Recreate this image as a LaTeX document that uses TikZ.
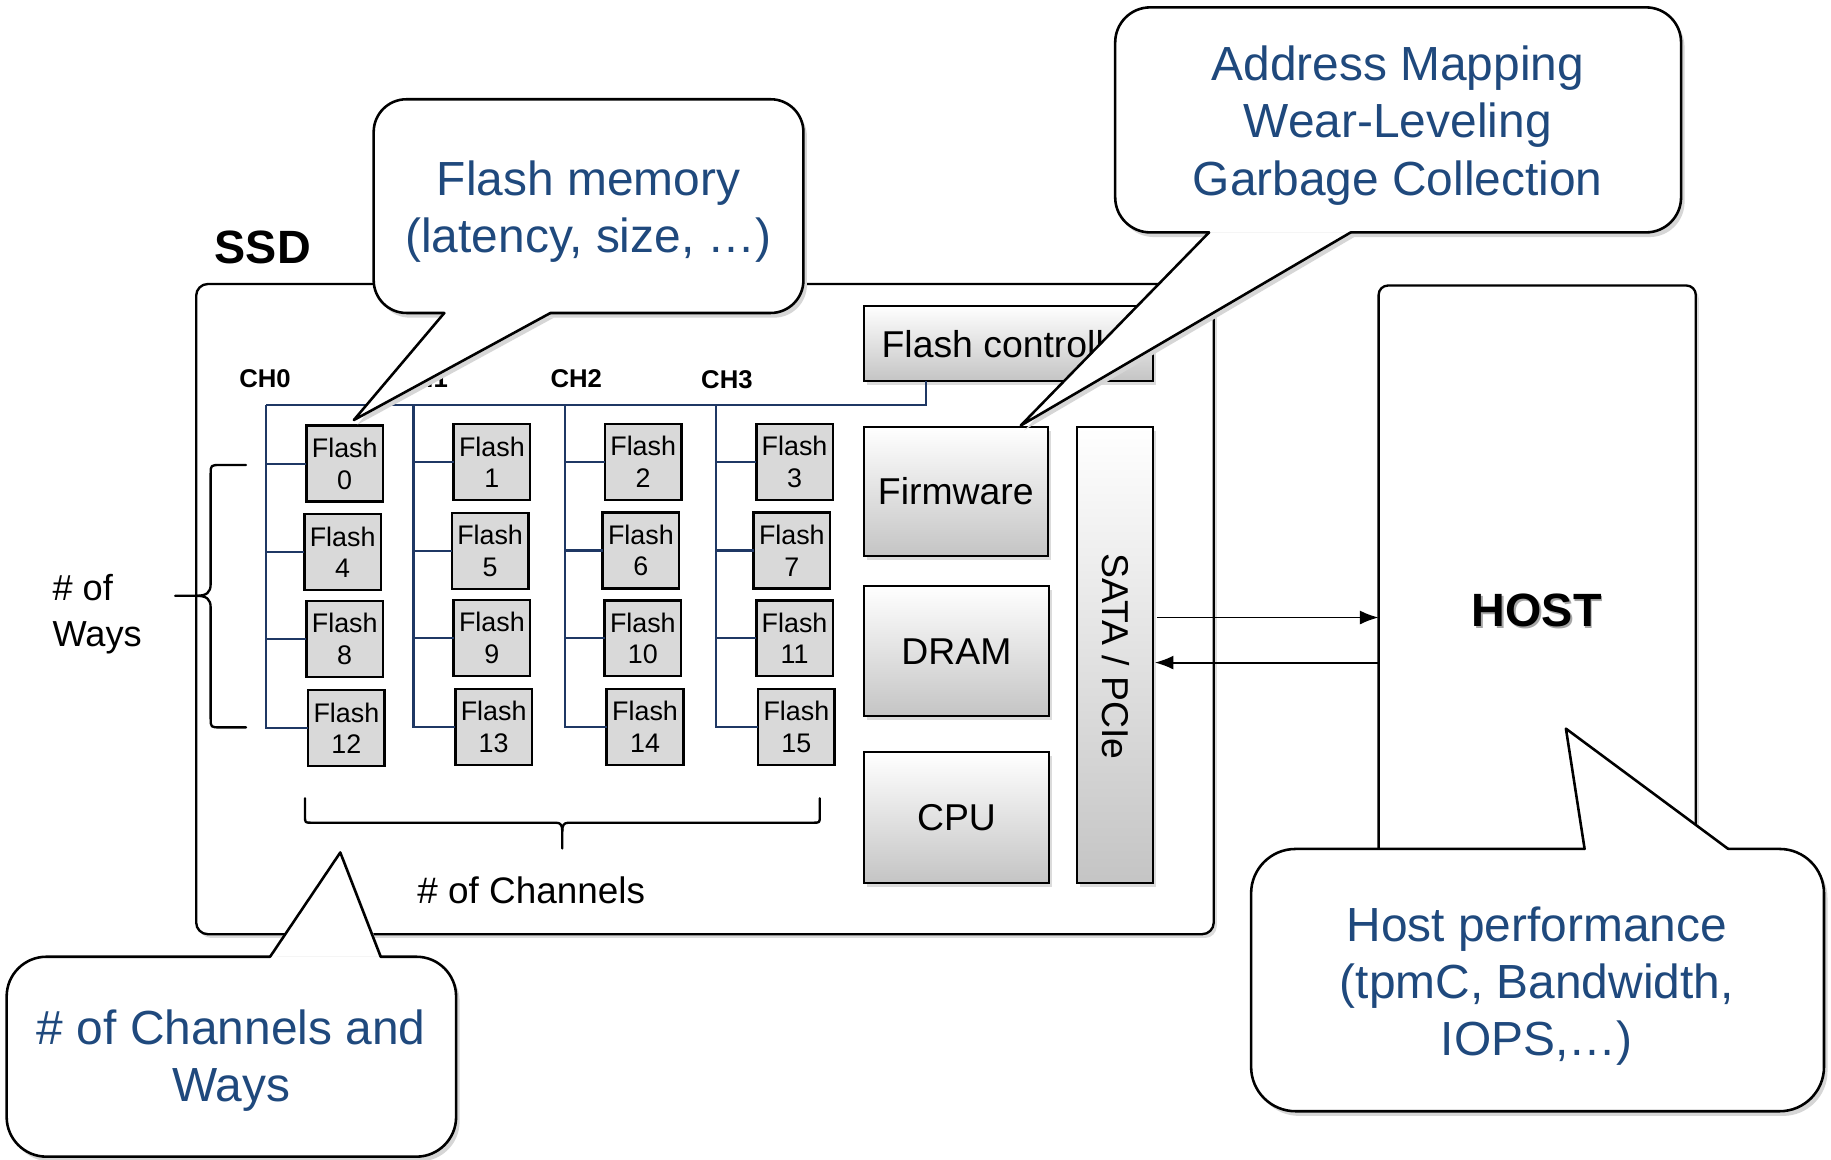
\documentclass[tikz,border=0pt]{standalone}
\usepackage{fontspec}
\setmainfont{Liberation Sans}
\usetikzlibrary{arrows.meta,shadows,calc}

\definecolor{calltext}{RGB}{31,73,125}
\definecolor{busblue}{RGB}{31,56,100}

% Speech bubble whose pointer leaves the bottom edge.
% #1 left, #2 top, #3 right, #4 bottom, #5/#6 pointer base x, #7/#8 pointer tip, #9 corner radius
\newcommand\calloutbelow[9]{%
  \begin{scope}[shift={(3,4)}]
    \fill[black!16, rounded corners=#9] (#1,#2) rectangle (#3,#4);
    \fill[black!16] (#5,#4) -- (#7,#8) -- (#6,#4) -- cycle;
  \end{scope}
  \fill[white, rounded corners=#9] (#1,#2) rectangle (#3,#4);
  \fill[white] (#5,#4) -- (#7,#8) -- (#6,#4) -- cycle;
  \draw[bubline, rounded corners=#9] (#6,#4) -- (#3,#4) -- (#3,#2) -- (#1,#2) -- (#1,#4) -- (#5,#4);
  \draw[bubline] (#5,#4) -- (#7,#8) -- (#6,#4);
}
% Speech bubble whose pointer leaves the top edge.
\newcommand\calloutabove[9]{%
  \begin{scope}[shift={(3,4)}]
    \fill[black!16, rounded corners=#9] (#1,#2) rectangle (#3,#4);
    \fill[black!16] (#5,#2) -- (#7,#8) -- (#6,#2) -- cycle;
  \end{scope}
  \fill[white, rounded corners=#9] (#1,#2) rectangle (#3,#4);
  \fill[white] (#5,#2) -- (#7,#8) -- (#6,#2) -- cycle;
  \draw[bubline, rounded corners=#9] (#6,#2) -- (#3,#2) -- (#3,#4) -- (#1,#4) -- (#1,#2) -- (#5,#2);
  \draw[bubline] (#5,#2) -- (#7,#8) -- (#6,#2);
}

\begin{document}
\begin{tikzpicture}[x=0.5pt,y=-0.5pt,
  every node/.style={inner sep=0pt, outer sep=0pt},
  softshadow/.style={drop shadow={shadow xshift=1.3pt, shadow yshift=-1.6pt, opacity=0.28}},
  frame/.style={draw=black, line width=1pt, fill=white, rounded corners=#1, softshadow},
  flashchip/.style={draw=black, line width=1.1pt, fill=black!15, minimum width=32.8pt,
    minimum height=32.5pt, align=center, font=\fontsize{11.5}{13.5}\selectfont},
  unitbox/.style={draw=black, line width=0.9pt, top color=white, middle color=black!3,
    bottom color=black!23, softshadow, font=\fontsize{16}{19}\selectfont},
  unitlabel/.style={font=\fontsize{16}{19}\selectfont},
  bus/.style={draw=busblue, line width=1pt},
  bubline/.style={draw=black, line width=1.1pt, line join=round, line cap=round},
  bubtext/.style={text=calltext, align=center, font=\fontsize{20.5}{24.5}\selectfont},
  chlabel/.style={font=\bfseries\fontsize{11}{13}\selectfont},
  datalink/.style={draw=black, line width=0.8pt, -{Latex[length=8pt,width=6pt]}},
  curly/.style={draw=black, line width=1pt, line cap=round, line join=round},
]
\useasboundingbox (0,0) rectangle (1568,993);

% enclosures
\node[frame=5pt, minimum width=435.7pt, minimum height=278.4pt] (ssd) at (603.7,521.6) {};
\node[frame=4pt, minimum width=135.8pt, minimum height=272.8pt] (host) at (1316.4,517.3) {};
\node[font=\bfseries\fontsize{20}{24}\selectfont] (ssdlabel) at (225,212) {SSD};
\node[font=\bfseries\fontsize{20}{24}\selectfont, text=black!35] (hostshade) at (1317.5,524.5) {HOST};
\node[font=\bfseries\fontsize{20}{24}\selectfont] (hostlabel) at (1316,523) {HOST};

% flash chips, four channels by four ways
\foreach \n/\x/\y in {0/295.2/397.1, 4/293.4/472.8, 8/295.2/547.3, 12/296.6/623.5,
                      1/421.2/395.7, 5/419.7/471.9, 9/421.2/546.4, 13/422.7/622.6,
                      2/550.8/395.5, 6/548.8/471.5, 10/550.5/546.5, 14/552.4/622.5,
                      3/680.4/395.5, 7/678.1/471.5, 11/680.4/546.5, 15/682.0/622.5}
  \node[flashchip] (f\n) at (\x,\y) {Flash\\\n};

% controller side
\node[unitbox, minimum width=123.8pt, minimum height=32.2pt] (fctrl) at (863.6,294) {};
\node[unitlabel, anchor=west] (fctrltext) at (755,295) {Flash controller};
\node[unitbox, minimum width=78.8pt, minimum height=55.2pt] (firmware) at (818.5,420.9) {Firmware};
\node[unitbox, minimum width=79.3pt, minimum height=55.6pt] (dram) at (819.1,557.7) {DRAM};
\node[unitbox, minimum width=79.3pt, minimum height=55.9pt] (cpu) at (819.1,700.1) {CPU};
\node[unitbox, minimum width=32.6pt, minimum height=195.2pt] (sata) at (955.1,560.9) {};
\node[unitlabel, rotate=-90] (satalabel) at (955.5,562) {SATA / PCIe};

% channel buses
\coordinate (c0) at (228,347);
\coordinate (c1) at (354,347);
\coordinate (c2) at (484,347);
\coordinate (c3) at (613,347);
\draw[bus] ([xshift=26.6pt]fctrl.south west) |- (c0);
\draw[bus] (c0) |- (f12.west);
\draw[bus] (c1) |- (f13.west);
\draw[bus] (c2) |- (f14.west);
\draw[bus] (c3) |- (f15.west);
\foreach \k/\c in {0/c0, 4/c0, 8/c0, 1/c1, 5/c1, 9/c1, 2/c2, 6/c2, 10/c2, 3/c3, 7/c3, 11/c3}
  \draw[bus] (f\k.west) -- (f\k.west -| \c);

\node[chlabel] (ch0) at (227,324) {CH0};
\node[chlabel] (ch1) at (361.5,324) {CH1};
\node[chlabel] (ch2) at (493.5,324) {CH2};
\node[chlabel] (ch3) at (622.5,325.5) {CH3};

% host interface
\coordinate (upY) at (0,528.8);
\coordinate (dnY) at (0,567.4);
\draw[datalink] ([xshift=1.5pt]sata.east |- upY) -- (host.west |- upY);
\draw[datalink] (host.west |- dnY) -- ([xshift=0.6pt]sata.east |- dnY);

% brace over the ways
\draw[curly] (210.7,398.2) -- (189,398.2) .. controls (180.4,398.2) .. (180.4,406)
  -- (180.4,500) .. controls (180.4,507.5) and (177,510.2) .. (168,510.2) -- (150,510.2);
\draw[curly] (210.7,622.9) -- (189,622.9) .. controls (180.4,622.9) .. (180.4,615)
  -- (180.4,520.4) .. controls (180.4,513) and (177,510.2) .. (168,510.2);
\node[anchor=west, align=left, font=\fontsize{15.5}{20}\selectfont] (wayslabel) at (45,526) {\# of\\Ways};

% brace under the channels
\draw[curly] (261.2,683.7) -- (261.2,699) .. controls (261.2,704.5) .. (266.5,704.5)
  -- (476,704.5) .. controls (480.5,704.5) and (481.5,707) .. (481.5,712) -- (481.5,726.5);
\draw[curly] (702,683.7) -- (702,699) .. controls (702,704.5) .. (696.7,704.5)
  -- (487,704.5) .. controls (482.5,704.5) and (481.5,707) .. (481.5,712);
\node[font=\fontsize{15.8}{19}\selectfont] (chanlabel) at (455,762) {\# of Channels};

% speech bubbles
\calloutbelow{320}{85}{688}{268}{380.5}{471.4}{303}{359.7}{14pt}
\node[bubtext] (fmtext) at (504,181.5) {Flash memory\\(latency, size, …)};
\calloutbelow{955}{6.3}{1439.6}{199}{1035.4}{1156.7}{874.1}{364.4}{15pt}
\node[bubtext] (ftltext) at (1197,107.5) {Address Mapping\\Wear-Leveling\\Garbage Collection};
\calloutabove{1071.4}{727}{1562}{951.6}{1357}{1480}{1341}{624}{19pt}
\node[bubtext] (perftext) at (1316,844.5) {Host performance\\(tpmC, Bandwidth,\\IOPS,…)};
\calloutabove{5.7}{819.3}{390.6}{990.5}{231.3}{326}{291.4}{730}{17pt}
\node[bubtext] (cwtext) at (198,908.5) {\# of Channels and\\Ways};
\end{tikzpicture}
\end{document}
